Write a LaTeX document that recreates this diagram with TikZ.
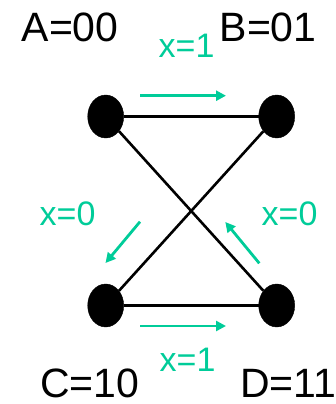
\documentclass[tikz,border=0pt]{standalone}
\usepackage{fontspec}
\setmainfont{Liberation Sans}
\usetikzlibrary{shapes.geometric,arrows.meta}
\definecolor{tgreen}{RGB}{0,204,153}
\begin{document}
\begin{tikzpicture}[x=1pt,y=-1pt,
  state/.style={ellipse,fill=black,draw=black,minimum width=36pt,minimum height=43pt,inner sep=0pt},
  edge/.style={line width=2.6pt,draw=black},
  lbl/.style={anchor=base west,inner sep=0pt,font=\fontsize{41}{48}\selectfont},
  glbl/.style={anchor=base west,inner sep=0pt,text=tgreen,font=\fontsize{34}{40}\selectfont},
  garrow/.style={line width=2.8pt,draw=tgreen,-{Triangle[length=10pt,width=10pt]}}]
\useasboundingbox (0,0) rectangle (335,404);
\node[state] (A) at (105.7,116.5) {};
\node[state] (B) at (276.7,116.5) {};
\node[state] (C) at (105.7,305.5) {};
\node[state] (D) at (276.7,305.5) {};
\draw[edge] (A) -- (B);
\draw[edge] (C) -- (D);
\draw[edge] (A) -- (D);
\draw[edge] (B) -- (C);
\node[lbl] (la) at (21.5,42) {A=00};
\node[lbl] (lb) at (219.5,42) {B=01};
\node[lbl] (lc) at (40,397) {C=10};
\node[lbl] (ld) at (240,397) {D=11};
\node[glbl] (t1) at (158.5,57) {x=1};
\node[glbl] (t2) at (39.5,225) {x=0};
\node[glbl] (t3) at (261.5,225) {x=0};
\node[glbl] (t4) at (159.5,371.5) {x=1};
\coordinate (a1s) at (140,95.7);
\coordinate (a1e) at (226,95.7);
\coordinate (a2s) at (140,221.7);
\coordinate (a2e) at (105.5,263);
\coordinate (a3s) at (259.3,263.3);
\coordinate (a3e) at (225.3,222);
\coordinate (a4s) at (140,326);
\coordinate (a4e) at (226,326);
\draw[garrow] (a1s) -- (a1e);
\draw[garrow] (a2s) -- (a2e);
\draw[garrow] (a3s) -- (a3e);
\draw[garrow] (a4s) -- (a4e);
\end{tikzpicture}
\end{document}
